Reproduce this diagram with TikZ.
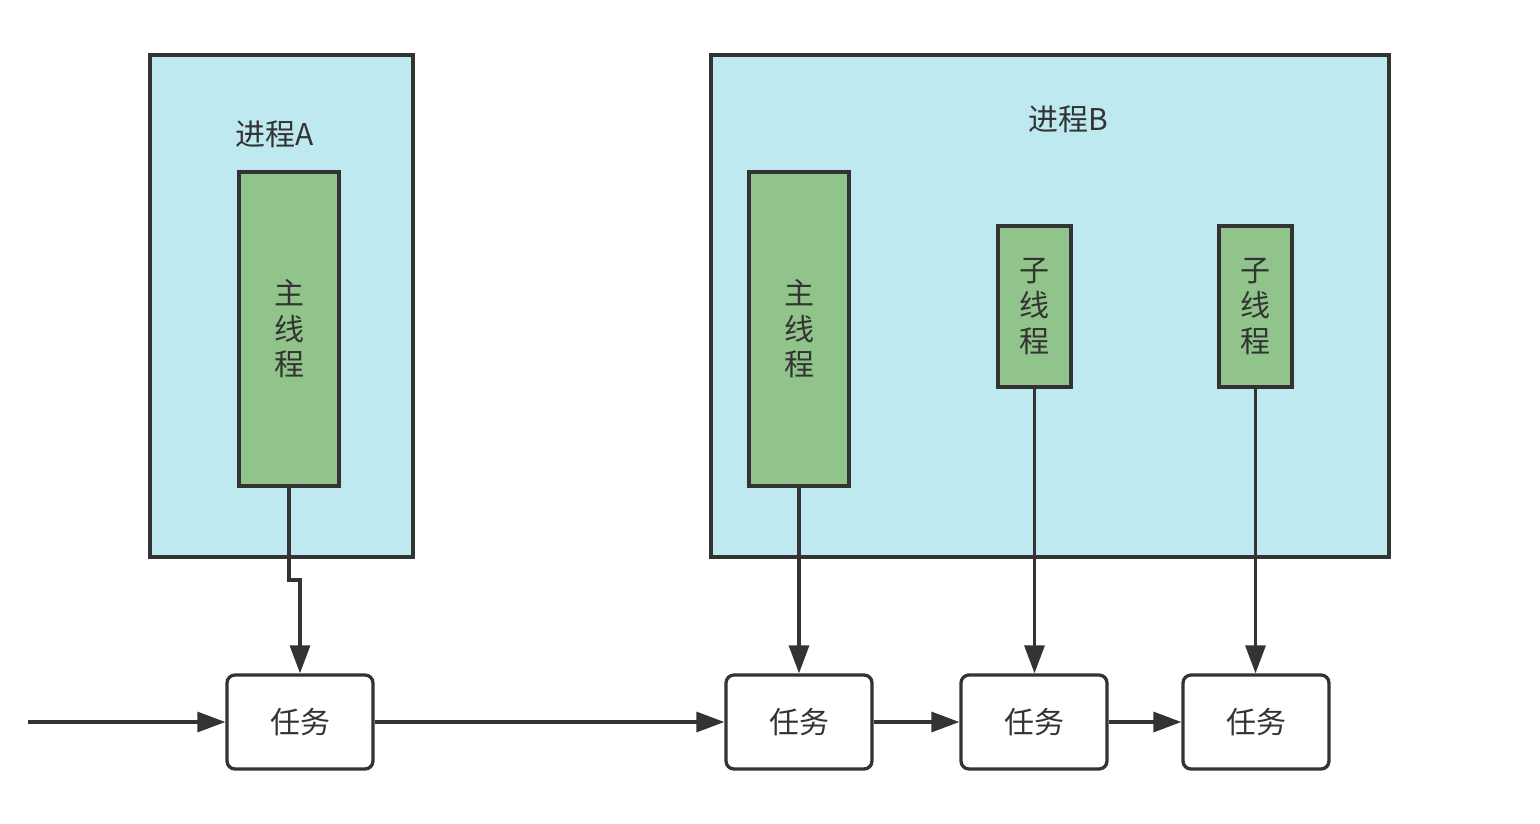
\documentclass[tikz,border=0pt]{standalone}
\usepackage{fontspec}
\newfontfamily\cjk{Noto Sans CJK SC}
\usetikzlibrary{arrows.meta}
\definecolor{strk}{HTML}{333333}
\definecolor{procfill}{HTML}{BEE9F0}
\definecolor{thrfill}{HTML}{91C48A}
\tikzset{
  base/.style={draw=strk, line width=3.3pt, inner sep=0pt, text=strk, font=\cjk\fontsize{30}{35.5}\selectfont},
  proc/.style={base, fill=procfill, rectangle},
  thr/.style={base, fill=thrfill, rectangle, align=center},
  task/.style={base, fill=white, rounded corners=8pt, minimum width=146pt, minimum height=94pt},
  lbl/.style={inner sep=0pt, text=strk, font=\cjk\fontsize{30}{35.5}\selectfont},
  conn/.style={draw=strk, line width=3.3pt, -{Triangle[length=28pt,width=20pt]}},
}
\begin{document}
\begin{tikzpicture}[x=1pt,y=-1pt]
\useasboundingbox (0,0) rectangle (1540,823);
% processes
\node[proc, minimum width=263pt, minimum height=502pt] (procA) at (281.5,306) {};
\node[proc, minimum width=678pt, minimum height=502pt] (procB) at (1050,306) {};
\node[lbl] (labA) at (275,134) {进程A};
\node[lbl] (labB) at (1068,119) {进程B};
% threads
\node[thr, minimum width=100pt, minimum height=314pt] (mainA) at (289,329) {主\\线\\程};
\node[thr, minimum width=100pt, minimum height=314pt] (mainB) at (799,329) {主\\线\\程};
\node[thr, minimum width=73pt, minimum height=161pt] (sub1) at (1034.5,306.5) {子\\线\\程};
\node[thr, minimum width=73pt, minimum height=161pt] (sub2) at (1255.5,306.5) {子\\线\\程};
% tasks
\node[task] (t1) at (300,722) {任务};
\node[task] (t2) at (799,722) {任务};
\node[task] (t3) at (1034,722) {任务};
\node[task] (t4) at (1256,722) {任务};
% connectors
\coordinate (start) at (28,722);
\coordinate (j1) at (289,580);
\coordinate (j2) at (300,580);
\draw[conn] (start) -- (t1.west);
\draw[conn] (t1.east) -- (t2.west);
\draw[conn] (t2.east) -- (t3.west);
\draw[conn] (t3.east) -- (t4.west);
\draw[conn] (mainA.south) -- (j1) -- (j2) -- (t1.north);
\draw[conn] (mainB.south) -- (t2.north);
\draw[conn] (sub1.south) -- (sub1.south |- t3.north);
\draw[conn] (sub2.south) -- (sub2.south |- t4.north);
\end{tikzpicture}
\end{document}
